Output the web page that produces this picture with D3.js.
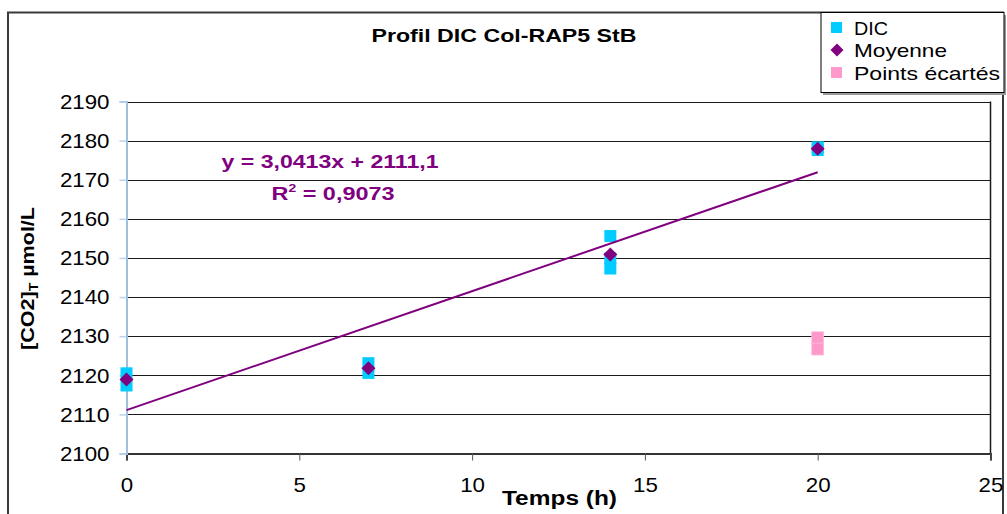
<!DOCTYPE html>
<html>
<head>
<meta charset="utf-8">
<script src="https://cdn.jsdelivr.net/npm/d3@7"></script>
<style>
  html, body { margin: 0; padding: 0; background: #fff; }
  svg { display: block; font-family: "Liberation Sans", Arial, sans-serif; }
</style>
</head>
<body>
<svg id="chart" width="1007" height="514"></svg>
<script>
// Sampling times (h) and DIC measurements (µmol/L)
const dicTimes   = [0, 0, 7, 7, 14, 14, 14, 20, 20];
const dicValues  = [2120.5, 2117.4, 2123.1, 2120.6, 2155.6, 2149.9, 2147.3, 2178.3, 2177.6];
// Mean per sampling time
const meanTimes  = [0, 7, 14, 20];
const meanValues = [2118.9, 2121.8, 2150.9, 2177.9];
// Discarded points
const outTimes   = [20, 20];
const outValues  = [2129.6, 2126.7];
// Linear fit of the means
const fitSlope = 3.0413, fitIntercept = 2111.1;
const fitRange = [0, 20];
const xTicks = [0, 5, 10, 15, 20, 25];
const yTicks = [2100, 2110, 2120, 2130, 2140, 2150, 2160, 2170, 2180, 2190];

const svg = d3.select("#chart");
const x = d3.scaleLinear().domain([0, 25]).range([126.5, 990.5]);
const y = d3.scaleLinear().domain([2100, 2190]).range([453.5, 101.5]);

// outer chart frame
svg.append("rect").attr("x", 8).attr("y", 12.5).attr("width", 995).attr("height", 520)
  .attr("fill", "#fff").attr("stroke", "#3a3a3a").attr("stroke-width", 2);

// title
svg.append("text").attr("x", 504).attr("y", 41.5).attr("text-anchor", "middle")
  .attr("font-weight", "bold").attr("font-size", 18.5)
  .attr("textLength", 265).attr("lengthAdjust", "spacingAndGlyphs")
  .text("Profil DIC Col-RAP5 StB");

// horizontal gridlines
svg.append("g").selectAll("line").data(yTicks.slice(1)).join("line")
  .attr("x1", x(0)).attr("x2", x(25))
  .attr("y1", d => Math.round(y(d)) + 0.5).attr("y2", d => Math.round(y(d)) + 0.5)
  .attr("stroke", "#1a1a1a").attr("stroke-width", 1);

// right edge of plot area
svg.append("line").attr("x1", x(25)).attr("x2", x(25))
  .attr("y1", y(2190)).attr("y2", y(2100))
  .attr("stroke", "#1a1a1a").attr("stroke-width", 1.5);

// tick labels are slightly wide: fit each to a per-character width
const tickCharW = 12.4;
function styleTickText(sel) {
  sel.attr("font-size", 21).attr("fill", "#000")
    .style("font-family", "'Liberation Sans', Arial, sans-serif")
    .attr("textLength", function () { return this.textContent.length * tickCharW; })
    .attr("lengthAdjust", "spacingAndGlyphs");
}

// x axis
const xAxis = svg.append("g").attr("transform", `translate(0,${y(2100)})`)
  .call(d3.axisBottom(x).tickValues(xTicks).tickFormat(d3.format("d"))
    .tickSize(7).tickPadding(17));
xAxis.select(".domain").attr("stroke", "#333").attr("stroke-width", 2);
xAxis.selectAll(".tick line").attr("stroke", "#555");
xAxis.selectAll(".tick text").call(styleTickText);

// y axis
const yAxis = svg.append("g").attr("transform", `translate(${x(0)},0)`)
  .call(d3.axisLeft(y).tickValues(yTicks).tickFormat(d3.format("d"))
    .tickSize(7).tickPadding(10));
yAxis.select(".domain").attr("stroke", "#9fbfe0").attr("stroke-width", 2);
yAxis.selectAll(".tick line").attr("stroke", "#b9d3ee").attr("stroke-width", 1.5);
yAxis.selectAll(".tick text").call(styleTickText);

// axis titles
svg.append("text").attr("x", 559.5).attr("y", 505).attr("text-anchor", "middle")
  .attr("font-weight", "bold").attr("font-size", 20)
  .attr("textLength", 115).attr("lengthAdjust", "spacingAndGlyphs")
  .text("Temps (h)");

const yTitle = svg.append("text")
  .attr("transform", "translate(34,278.5) rotate(-90)")
  .attr("text-anchor", "middle").attr("font-weight", "bold").attr("font-size", 18.5)
  .attr("textLength", 143).attr("lengthAdjust", "spacingAndGlyphs");
yTitle.append("tspan").text("[CO2]");
yTitle.append("tspan").attr("font-size", 12).attr("dy", 4).text("T");
yTitle.append("tspan").attr("dy", -4).text(" µmol/L");

const sq = 12;
// DIC measurements
svg.append("g").selectAll("rect").data(dicTimes.map((t, i) => [t, dicValues[i]])).join("rect")
  .attr("x", d => x(d[0]) - sq / 2).attr("y", d => y(d[1]) - sq / 2)
  .attr("width", sq).attr("height", sq).attr("fill", "#00ccff");

// discarded points
svg.append("g").selectAll("rect").data(outTimes.map((t, i) => [t, outValues[i]])).join("rect")
  .attr("x", d => x(d[0]) - sq / 2).attr("y", d => y(d[1]) - sq / 2)
  .attr("width", sq).attr("height", sq).attr("fill", "#ff99cc")
  .attr("stroke", "#ffc2e0").attr("stroke-width", 0.6);

// trend line
svg.append("line")
  .attr("x1", x(fitRange[0])).attr("y1", y(fitSlope * fitRange[0] + fitIntercept))
  .attr("x2", x(fitRange[1])).attr("y2", y(fitSlope * fitRange[1] + fitIntercept))
  .attr("stroke", "#800080").attr("stroke-width", 2);

// mean markers
const diamond = "M0,-7L7,0L0,7L-7,0Z";
svg.append("g").selectAll("path").data(meanTimes.map((t, i) => [t, meanValues[i]])).join("path")
  .attr("transform", d => `translate(${x(d[0])},${y(d[1])})`)
  .attr("d", diamond).attr("fill", "#800080");

// regression labels
svg.append("text").attr("x", 330).attr("y", 168).attr("text-anchor", "middle")
  .attr("font-weight", "bold").attr("font-size", 18.5).attr("fill", "#800080")
  .attr("textLength", 217).attr("lengthAdjust", "spacingAndGlyphs")
  .text("y = 3,0413x + 2111,1");
const r2 = svg.append("text").attr("x", 333).attr("y", 200).attr("text-anchor", "middle")
  .attr("font-weight", "bold").attr("font-size", 18.5).attr("fill", "#800080")
  .attr("textLength", 123).attr("lengthAdjust", "spacingAndGlyphs");
r2.append("tspan").text("R");
r2.append("tspan").attr("font-size", 11).attr("dy", -8).text("2");
r2.append("tspan").attr("dy", 8).text(" = 0,9073");

// legend
const legend = svg.append("g");
legend.append("rect").attr("x", 823).attr("y", 15).attr("width", 183).attr("height", 80).attr("fill", "#9a9a9a");
legend.append("rect").attr("x", 821).attr("y", 12.5).attr("width", 183).attr("height", 80)
  .attr("fill", "#fff").attr("stroke", "#000").attr("stroke-width", 1);
const legendItems = [
  { label: "DIC", kind: "square", color: "#00ccff", w: 34 },
  { label: "Moyenne", kind: "diamond", color: "#800080", w: 93 },
  { label: "Points écartés", kind: "square", color: "#ff99cc", w: 146 }
];
legendItems.forEach((it, i) => {
  const cy = 27.5 + i * 22.5;
  if (it.kind === "square") {
    legend.append("rect").attr("x", 831).attr("y", cy - 5.5).attr("width", 11).attr("height", 11).attr("fill", it.color);
  } else {
    legend.append("path").attr("transform", `translate(837,${cy})`).attr("d", "M0,-6.5L6.5,0L0,6.5L-6.5,0Z").attr("fill", it.color);
  }
  legend.append("text").attr("x", 854).attr("y", cy + 7).attr("font-size", 19)
    .attr("textLength", it.w).attr("lengthAdjust", "spacingAndGlyphs").text(it.label);
});
</script>
</body>
</html>
